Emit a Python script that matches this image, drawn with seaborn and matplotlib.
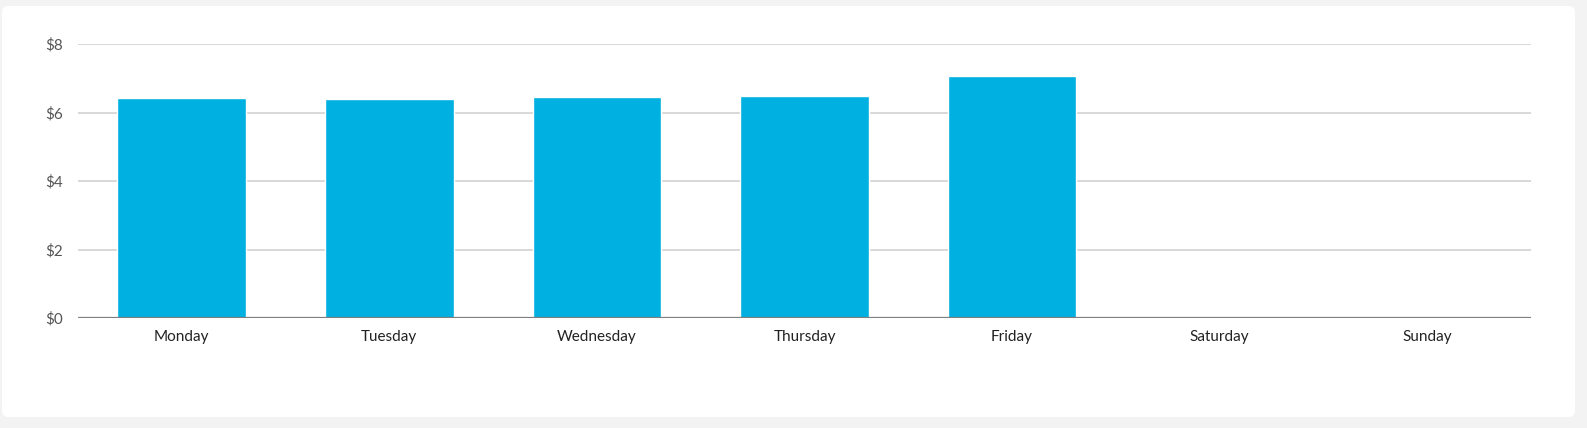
import seaborn as sns
import pandas as pd
import matplotlib.pyplot as plt
from matplotlib.patches import FancyBboxPatch

# valores
dias = ["Monday", "Tuesday", "Wednesday", "Thursday", "Friday", "Saturday", "Sunday"]
valores = [6.41, 6.38, 6.44, 6.48, 7.07, 0.02, 0.02]
marcas_y = [0, 2, 4, 6, 8]

dataframe = pd.DataFrame({"Dia": dias, "Valor": valores})

sns.set_theme(style="white")
plt.rcParams['font.family'] = ['Lato', 'DejaVu Sans']

W, H = 1587, 428
figura = plt.figure(figsize=(W / 100, H / 100), dpi=100, facecolor="#f3f3f3")

# cartão branco de fundo
cartao = FancyBboxPatch((2 / W, 11 / H), 1573 / W, 411 / H,
                        boxstyle="round,pad=0,rounding_size=0.004",
                        transform=figura.transFigure, facecolor="white",
                        edgecolor="none", mutation_aspect=W / H, zorder=-5)
figura.patches.append(cartao)

eixo = figura.add_axes([78 / W, 1 - 318 / H, (1531 - 78) / W, (318 - 44) / H])
eixo.set_facecolor("none")

sns.barplot(data=dataframe, x="Dia", y="Valor", color="#00b0e0", saturation=1,
            width=0.62, ax=eixo, zorder=3)

eixo.set_ylim(0, 8)
eixo.set_xlim(-0.5, len(dias) - 0.5)
eixo.set_yticks(marcas_y)
eixo.set_yticklabels([f"${v}" for v in marcas_y])
for v in marcas_y[1:]:
    eixo.axhline(v, color="#d2d2d2", lw=1.2, zorder=1)
eixo.axhline(0, color="#7f7f7f", lw=1.6, zorder=4)

for lado in eixo.spines.values():
    lado.set_visible(False)
eixo.tick_params(axis="y", length=0, pad=11, labelsize=11, labelcolor="#555555")
eixo.tick_params(axis="x", length=0, pad=9, labelsize=11, labelcolor="#222222")
eixo.set_xlabel("")
eixo.set_ylabel("")

plt.savefig("out.png", dpi=100, facecolor=figura.get_facecolor())
